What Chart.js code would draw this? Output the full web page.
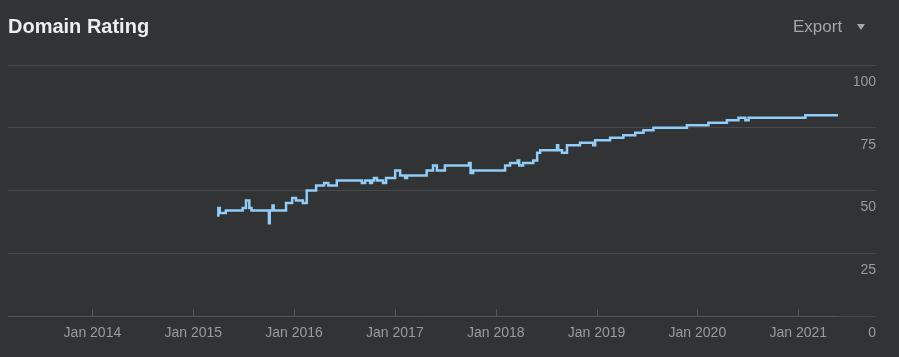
<!DOCTYPE html>
<html>
<head>
<meta charset="utf-8">
<script src="https://cdn.jsdelivr.net/npm/chart.js@4.4.1/dist/chart.umd.min.js"></script>
<style>
  html, body { margin: 0; padding: 0; background: #323335; }
  #wrap { position: relative; width: 899px; height: 357px; background: #323335; overflow: hidden; }
  #title { position: absolute; left: 8px; top: 16px; font: bold 20px/20px "Liberation Sans", Arial, sans-serif; color: #eeeeee; white-space: nowrap; }
  #export { position: absolute; left: 793px; top: 18px; font: 17px/17px "Liberation Sans", Arial, sans-serif; color: #a6a6a6; white-space: nowrap; }
  #caret { position: absolute; left: 857px; top: 24px; width: 0; height: 0; border-left: 4.5px solid transparent; border-right: 4.5px solid transparent; border-top: 6px solid #a6a6a6; }
  canvas { position: absolute; left: 0; top: 0; }
</style>
</head>
<body>
<div id="wrap">
  <canvas id="c" width="899" height="357"></canvas>
  <div id="title">Domain Rating</div>
  <div id="export">Export</div>
  <div id="caret"></div>
</div>
<script>
// ---- data ----
const dates = [
  "2015-03-28","2015-04-02","2015-04-07","2015-04-29","2015-06-29","2015-07-11","2015-07-23","2015-07-31",
  "2015-10-02","2015-10-05","2015-10-15","2015-10-19","2015-12-03","2015-12-25","2016-01-08","2016-02-02",
  "2016-02-16","2016-03-21","2016-04-19","2016-05-04","2016-06-04","2016-09-03","2016-09-15","2016-10-03",
  "2016-10-10","2016-10-17","2016-10-28","2016-11-19","2016-11-30","2017-01-02","2017-01-20","2017-02-07",
  "2017-02-14","2017-04-26","2017-05-19","2017-06-02","2017-07-01","2017-09-26","2017-10-02","2017-10-11",
  "2018-02-04","2018-02-22","2018-03-21","2018-03-27","2018-04-10","2018-05-17","2018-05-31","2018-06-11",
  "2018-08-11","2018-08-15","2018-08-29","2018-09-16","2018-11-02","2018-12-20","2018-12-27","2019-02-19",
  "2019-04-08","2019-05-21","2019-06-20","2019-07-26","2019-11-24","2020-02-10","2020-04-17","2020-05-29",
  "2020-06-23","2020-07-05","2021-01-27","2021-05-25"
];
const domainRating = [
  40,43,41,42,43,46,43,42,
  37,42,44,42,45,47,46,45,
  50,52,53,52,54,53,54,53,
  54,55,54,53,55,58,56,55,
  56,58,60,58,60,61,57,58,
  60,61,62,60,61,62,65,66,
  68,66,65,68,69,68,70,71,
  72,73,74,75,76,77,78,79,
  78,79,80,80
];
const yearTicks = [2014, 2015, 2016, 2017, 2018, 2019, 2020, 2021];
const yTicks = [0, 25, 50, 75, 100];

// ---- helpers ----
function toYear(s) {
  const [y, m, d] = s.split("-").map(Number);
  const start = Date.UTC(y, 0, 1), end = Date.UTC(y + 1, 0, 1);
  return y + (Date.UTC(y, m - 1, d) - start) / (end - start);
}
const points = dates.map((d, i) => ({ x: toYear(d), y: domainRating[i] }));

const FONT = "'Liberation Sans', Arial, sans-serif";
const GRID = "#47484a";
const AXIS = "#55565a";
const LABEL = "#9b9b9b";

const upTicks = {
  id: "upTicks",
  afterDraw(chart) {
    const xs = chart.scales.x, ca = chart.chartArea, ctx = chart.ctx;
    ctx.save();
    ctx.strokeStyle = AXIS;
    ctx.lineWidth = 1;
    ctx.beginPath();
    yearTicks.forEach(t => {
      const px = Math.round(xs.getPixelForValue(t)) + 0.5;
      ctx.moveTo(px, ca.bottom - 7);
      ctx.lineTo(px, ca.bottom);
    });
    ctx.stroke();
    ctx.restore();
  }
};

new Chart(document.getElementById("c"), {
  type: "line",
  data: {
    datasets: [{
      label: "Domain Rating",
      data: points,
      stepped: "before",
      borderColor: "#90cdf8",
      borderWidth: 2.5,
      pointRadius: 0,
      fill: false
    }]
  },
  options: {
    responsive: false,
    animation: false,
    layout: { padding: { left: 8, right: 23, top: 65, bottom: 0 } },
    plugins: { legend: { display: false }, tooltip: { enabled: false }, title: { display: false } },
    scales: {
      x: {
        type: "linear",
        min: 2013.163,
        max: toYear(dates[dates.length - 1]),
        afterBuildTicks: s => { s.ticks = yearTicks.map(v => ({ value: v })); },
        afterFit: s => { s.height = 41; },
        grid: { display: true, drawOnChartArea: false, drawTicks: false },
        border: { display: true, color: AXIS, width: 1 },
        ticks: {
          color: LABEL,
          font: { family: FONT, size: 14 },
          padding: 9,
          maxRotation: 0,
          autoSkip: false,
          callback: v => "Jan " + v
        }
      },
      y: {
        position: "right",
        min: 0,
        max: 100,
        afterBuildTicks: s => { s.ticks = yTicks.map(v => ({ value: v })); },
        afterFit: s => { s.width = 38; },
        grid: { color: GRID, lineWidth: 1, drawTicks: true, tickLength: 38, tickColor: GRID },
        border: { display: false },
        ticks: {
          color: LABEL,
          font: { family: FONT, size: 14 },
          crossAlign: "far",
          labelOffset: 17,
          padding: 0,
          callback: v => String(v)
        }
      }
    }
  },
  plugins: [upTicks]
});
</script>
</body>
</html>
